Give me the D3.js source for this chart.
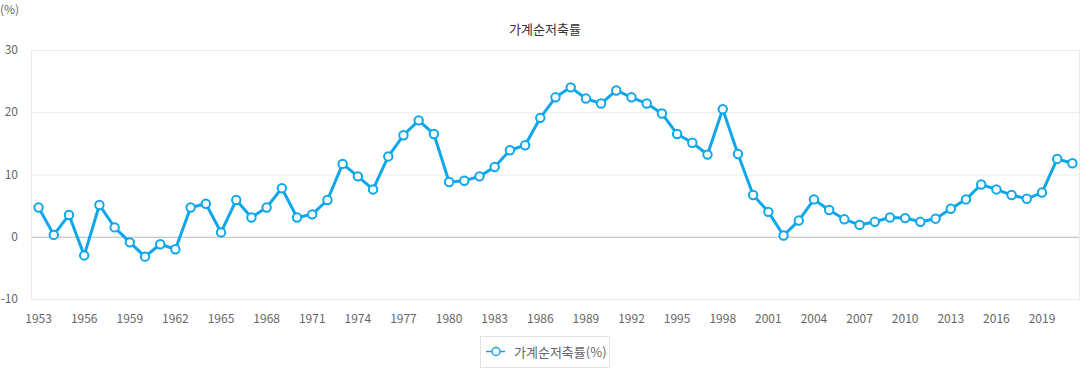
<!DOCTYPE html>
<html>
<head>
<meta charset="utf-8">
<script src="https://cdn.jsdelivr.net/npm/d3@7"></script>
<style>
  body { margin: 0; background: #fff; font-family: "Noto Sans CJK KR", "Noto Sans", sans-serif; }
</style>
</head>
<body>
<div id="chart"></div>
<script>
// data
var years = d3.range(1953, 2022);
var savingRate = [
    4.7, 0.3, 3.5, -3.0, 5.1, 1.5, -0.9, -3.2, -1.2, -2.0,
    4.7, 5.3, 0.7, 5.9, 3.1, 4.7, 7.8, 3.1, 3.6, 5.9,
    11.7, 9.7, 7.6, 12.9, 16.3, 18.7, 16.5, 8.8, 9.0, 9.7,
    11.2, 13.9, 14.7, 19.1, 22.4, 24.0, 22.2, 21.4, 23.5, 22.4,
    21.4, 19.8, 16.5, 15.1, 13.2, 20.5, 13.3, 6.7, 4.0, 0.2,
    2.6, 6.0, 4.3, 2.8, 1.9, 2.4, 3.1, 3.0, 2.4, 2.9,
    4.5, 6.0, 8.4, 7.6, 6.7, 6.1, 7.1, 12.5, 11.8
];
var yTicks = [-10, 0, 10, 20, 30];
var xTickYears = years.filter(function(y) { return (y - 1953) % 3 === 0; });
var title = "가계순저축률";
var seriesName = "가계순저축률(%)";
var unitLabel = "(%)";

var W = 1089, H = 368;
var margin = {top: 50, right: 9, bottom: 69, left: 31};
var width = W - margin.left - margin.right,
    height = H - margin.top - margin.bottom;
var lineColor = "#0ea7ec";

var svg = d3.select("#chart").append("svg")
    .attr("width", W)
    .attr("height", H);

var g = svg.append("g")
    .attr("transform", "translate(" + margin.left + "," + margin.top + ")");

var x = d3.scaleBand().domain(years).range([0, width]);
var y = d3.scaleLinear().domain([-10, 30]).range([height, 0]);

// grid
g.selectAll("line.grid")
    .data(yTicks)
    .enter().append("line")
    .attr("class", "grid")
    .attr("x1", 0).attr("x2", width)
    .attr("y1", function(d) { return y(d) + 0.5; })
    .attr("y2", function(d) { return y(d) + 0.5; })
    .style("stroke", function(d) { return d === 0 ? "#b4bac2" : "#ebebeb"; })
    .style("stroke-width", 1);

// side borders
g.append("line").attr("x1", 0.5).attr("x2", 0.5).attr("y1", 0).attr("y2", height)
    .style("stroke", "#ebebeb");
g.append("line").attr("x1", width - 0.5).attr("x2", width - 0.5).attr("y1", 0).attr("y2", height)
    .style("stroke", "#ebebeb");

// y labels
g.selectAll("text.ylab")
    .data(yTicks)
    .enter().append("text")
    .attr("class", "ylab")
    .attr("x", -13)
    .attr("y", function(d) { return y(d); })
    .attr("dy", "0.35em")
    .style("text-anchor", "end")
    .style("font-size", "12px")
    .style("fill", "#666")
    .text(function(d) { return d; });

// x labels
g.selectAll("text.xlab")
    .data(xTickYears)
    .enter().append("text")
    .attr("class", "xlab")
    .attr("x", function(d) { return x(d) + x.bandwidth() / 2; })
    .attr("y", height + 24)
    .style("text-anchor", "middle")
    .style("font-size", "12px")
    .style("fill", "#666")
    .text(function(d) { return d; });

// unit + title
svg.append("text")
    .attr("x", 0).attr("y", 14)
    .style("font-size", "12px")
    .style("fill", "#666")
    .text(unitLabel);

svg.append("text")
    .attr("x", 545).attr("y", 34)
    .style("text-anchor", "middle")
    .style("font-size", "13px")
    .style("fill", "#333")
    .text(title);

// line
var data = years.map(function(yr, i) { return {x: yr, y: savingRate[i]}; });
var valueline = d3.line()
    .x(function(d) { return x(d.x) + x.bandwidth() / 2; })
    .y(function(d) { return y(d.y); });

g.append("path")
    .datum(data)
    .attr("d", valueline)
    .style("fill", "none")
    .style("stroke", lineColor)
    .style("stroke-width", 3)
    .style("stroke-linejoin", "round");

g.selectAll("circle.pt")
    .data(data)
    .enter().append("circle")
    .attr("class", "pt")
    .attr("cx", function(d) { return x(d.x) + x.bandwidth() / 2; })
    .attr("cy", function(d) { return y(d.y); })
    .attr("r", 4.2)
    .style("fill", "#fff")
    .style("stroke", lineColor)
    .style("stroke-width", 2);

// legend
var legend = svg.append("g").attr("transform", "translate(480,336)");
legend.append("rect")
    .attr("x", 0.5).attr("y", 0.5)
    .attr("width", 129).attr("height", 31)
    .style("fill", "#fff")
    .style("stroke", "#e3e3e3");
legend.append("line")
    .attr("x1", 6).attr("x2", 25).attr("y1", 15.5).attr("y2", 15.5)
    .style("stroke", lineColor).style("stroke-width", 1.5);
legend.append("circle")
    .attr("cx", 16).attr("cy", 15.5).attr("r", 4)
    .style("fill", "#fff").style("stroke", lineColor).style("stroke-width", 1.5);
legend.append("text")
    .attr("x", 34).attr("y", 16)
    .attr("dy", "0.35em")
    .style("font-size", "13px")
    .style("fill", "#666")
    .text(seriesName);
</script>
</body>
</html>
